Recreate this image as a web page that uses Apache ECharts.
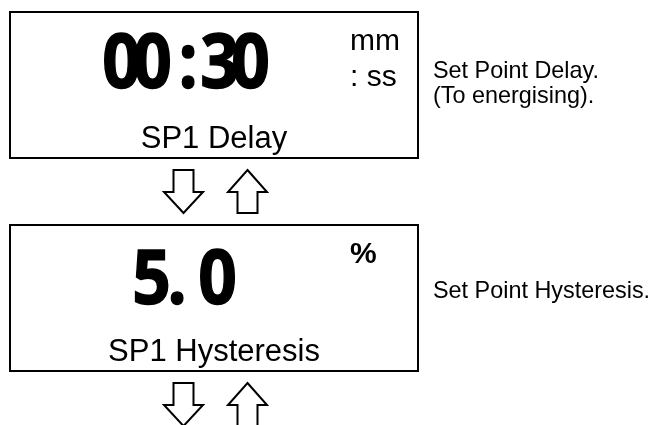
<!DOCTYPE html>
<html>
<head>
<meta charset="utf-8">
<script src="https://cdn.jsdelivr.net/npm/echarts@6/dist/echarts.min.js"></script>
<style>
  html, body { margin: 0; padding: 0; background: #fff; }
  #main { width: 656px; height: 425px; }
</style>
</head>
<body>
<div id="main"></div>
<script>
// display panels, top to bottom
var readings = ['00:30', '5.0'];
var readingLeft = [106, 136];
var readingY = [67, 70];
var units = [['mm', ': ss'], ['%']];
var panelNames = ['SP1 Delay', 'SP1 Hysteresis'];
var notes = [['Set Point Delay.', '(To energising).'], ['Set Point Hysteresis.']];

var chart = echarts.init(document.getElementById('main'));

var LABEL_FONT = 'Liberation Sans, Arial, sans-serif';
var step = 213; // vertical distance between panels

// spacing of the big display glyphs (left / right half widths)
var gaps = { ':': [20, 16], '.': [10, 25] };
var DIGIT_HALF = 15.5;

function downArrow(cx, top) {
  return [[cx - 10, top], [cx + 10, top], [cx + 10, top + 22], [cx + 19.5, top + 22],
          [cx, top + 43], [cx - 19.5, top + 22], [cx - 10, top + 22]];
}
function upArrow(cx, top) {
  return [[cx, top], [cx + 19.5, top + 22], [cx + 10, top + 22], [cx + 10, top + 43],
          [cx - 10, top + 43], [cx - 10, top + 22], [cx - 19.5, top + 22]];
}

var elements = [];
readings.forEach(function (val, i) {
  var oy = i * step;
  // box
  elements.push({
    type: 'rect',
    shape: { x: 10, y: 12 + oy, width: 408, height: 146 },
    style: { fill: '#fff', stroke: '#000', lineWidth: 2 }
  });
  // big reading, one glyph at a time so they sit tight together
  var cursor = readingLeft[i];
  val.split('').forEach(function (ch) {
    var g = gaps[ch] || [DIGIT_HALF, DIGIT_HALF];
    var cx = cursor + g[0];
    cursor = cx + g[1];
    elements.push({
      type: 'text',
      x: cx, y: readingY[i] + oy,
      scaleX: 0.9,
      style: {
        text: ch, x: 0, y: 0,
        font: 'bold 75px Open Sans, DejaVu Sans, sans-serif',
        fill: '#000', stroke: '#000', lineWidth: 1.5,
        align: 'center', verticalAlign: 'middle'
      }
    });
  });
  // units
  units[i].forEach(function (u, k) {
    var isPct = u === '%';
    elements.push({
      type: 'text',
      x: 350, y: (isPct ? 42 : 42 + k * 36) + oy,
      style: {
        text: u, x: 0, y: 0,
        font: (isPct ? 'bold 30px ' : '30px ') + LABEL_FONT,
        fill: '#000', align: 'left', verticalAlign: 'middle'
      }
    });
  });
  // panel name
  elements.push({
    type: 'text',
    x: 214, y: 139 + oy,
    style: {
      text: panelNames[i], x: 0, y: 0,
      font: '31px ' + LABEL_FONT,
      fill: '#000', align: 'center', verticalAlign: 'middle'
    }
  });
  // side note
  var noteTop = notes[i].length > 1 ? 72 : 79;
  notes[i].forEach(function (line, k) {
    elements.push({
      type: 'text',
      x: 433, y: noteTop + k * 24.5 + oy,
      style: {
        text: line, x: 0, y: 0,
        font: '23.4px ' + LABEL_FONT,
        fill: '#000', align: 'left', verticalAlign: 'middle'
      }
    });
  });
  // navigation arrows under the panel
  elements.push({
    type: 'polygon',
    shape: { points: downArrow(183.5, 170 + oy) },
    style: { fill: '#fff', stroke: '#000', lineWidth: 2 }
  });
  elements.push({
    type: 'polygon',
    shape: { points: upArrow(247.5, 170 + oy) },
    style: { fill: '#fff', stroke: '#000', lineWidth: 2 }
  });
});

chart.setOption({
  backgroundColor: '#ffffff',
  animation: false,
  graphic: { elements: elements }
});
</script>
</body>
</html>
